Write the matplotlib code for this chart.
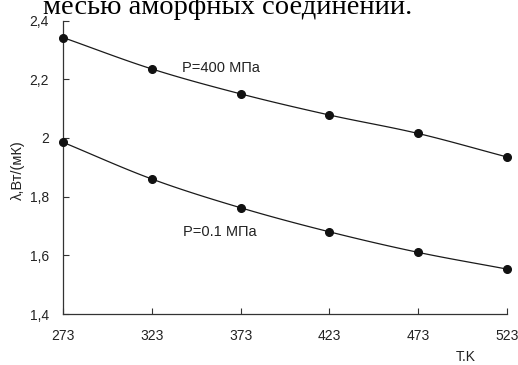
import matplotlib
matplotlib.use("Agg")
import matplotlib.pyplot as plt
import numpy as np

T = [273, 323, 373, 423, 473, 523]
lam_400 = [2.342, 2.235, 2.150, 2.078, 2.015, 1.935]
lam_01 = [1.985, 1.860, 1.762, 1.680, 1.610, 1.553]
yticks = [1.4, 1.6, 1.8, 2.0, 2.2, 2.4]
ytick_labels = ["1,4", "1,6", "1,8", "2", "2,2", "2,4"]
label_400 = "P=400 МПа"
label_01 = "P=0.1 МПа"
xlabel = "T.K"
ylabel = "λ,Вт/(мК)"
caption = "месью аморфных соединений."

plt.rcParams['font.family'] = ['Liberation Sans', 'DejaVu Sans']

W, H = 518, 365
fig = plt.figure(figsize=(W/100, H/100), dpi=100)
ax = fig.add_axes([63/W, 1-314/H, (507-63)/W, (314-20.5)/H])

def smooth(x, y, n=20):
    x = np.asarray(x, float); y = np.asarray(y, float)
    xs, ys = [], []
    P = np.column_stack([x, y])
    P = np.vstack([2*P[0]-P[1], P, 2*P[-1]-P[-2]])
    for i in range(1, len(P)-2):
        p0, p1, p2, p3 = P[i-1], P[i], P[i+1], P[i+2]
        t = np.linspace(0, 1, n, endpoint=False)[:, None]
        c = 0.5*((2*p1) + (-p0+p2)*t + (2*p0-5*p1+4*p2-p3)*t**2 + (-p0+3*p1-3*p2+p3)*t**3)
        xs.extend(c[:, 0]); ys.extend(c[:, 1])
    xs.append(x[-1]); ys.append(y[-1])
    return xs, ys

for ys in (lam_400, lam_01):
    sx, sy = smooth(T, ys)
    ax.plot(sx, sy, color='#1a1a1a', lw=0.9, clip_on=False)
    ax.plot(T, ys, 'o', color='#111111', ms=5.5, clip_on=False, zorder=3)

ax.set_xlim(273, 523)
ax.set_ylim(1.4, 2.4)
ax.set_xticks(T)
ax.set_xticklabels([str(t) for t in T])
ax.set_yticks(yticks)
ax.set_yticklabels(ytick_labels)
for s in ('top', 'right'):
    ax.spines[s].set_visible(False)
for s in ('left', 'bottom'):
    ax.spines[s].set_color('#333333')
    ax.spines[s].set_linewidth(0.9)
ax.tick_params(axis='both', direction='in', length=4, width=0.8, colors='#333333',
               labelsize=10, labelcolor='#222222')
ax.tick_params(axis='x', pad=11)
ax.tick_params(axis='y', pad=10)

fig.text(182/W, 1-68/H, label_400, fontsize=10.5, va='center', ha='left', color='#222222')
fig.text(183/W, 1-232/H, label_01, fontsize=10.5, va='center', ha='left', color='#222222')
fig.text(466/W, 1-357/H, xlabel, fontsize=10, ha='center', va='center', color='#222222')
fig.text(18/W, 1-170/H, ylabel, fontsize=10.5, rotation=90, ha='center', va='center', color='#222222')
fig.text(43/W, 1-14/H, caption, fontsize=20.5, family=['Liberation Serif'], ha='left', va='baseline', color='black')

fig.savefig("out.png", dpi=100)
